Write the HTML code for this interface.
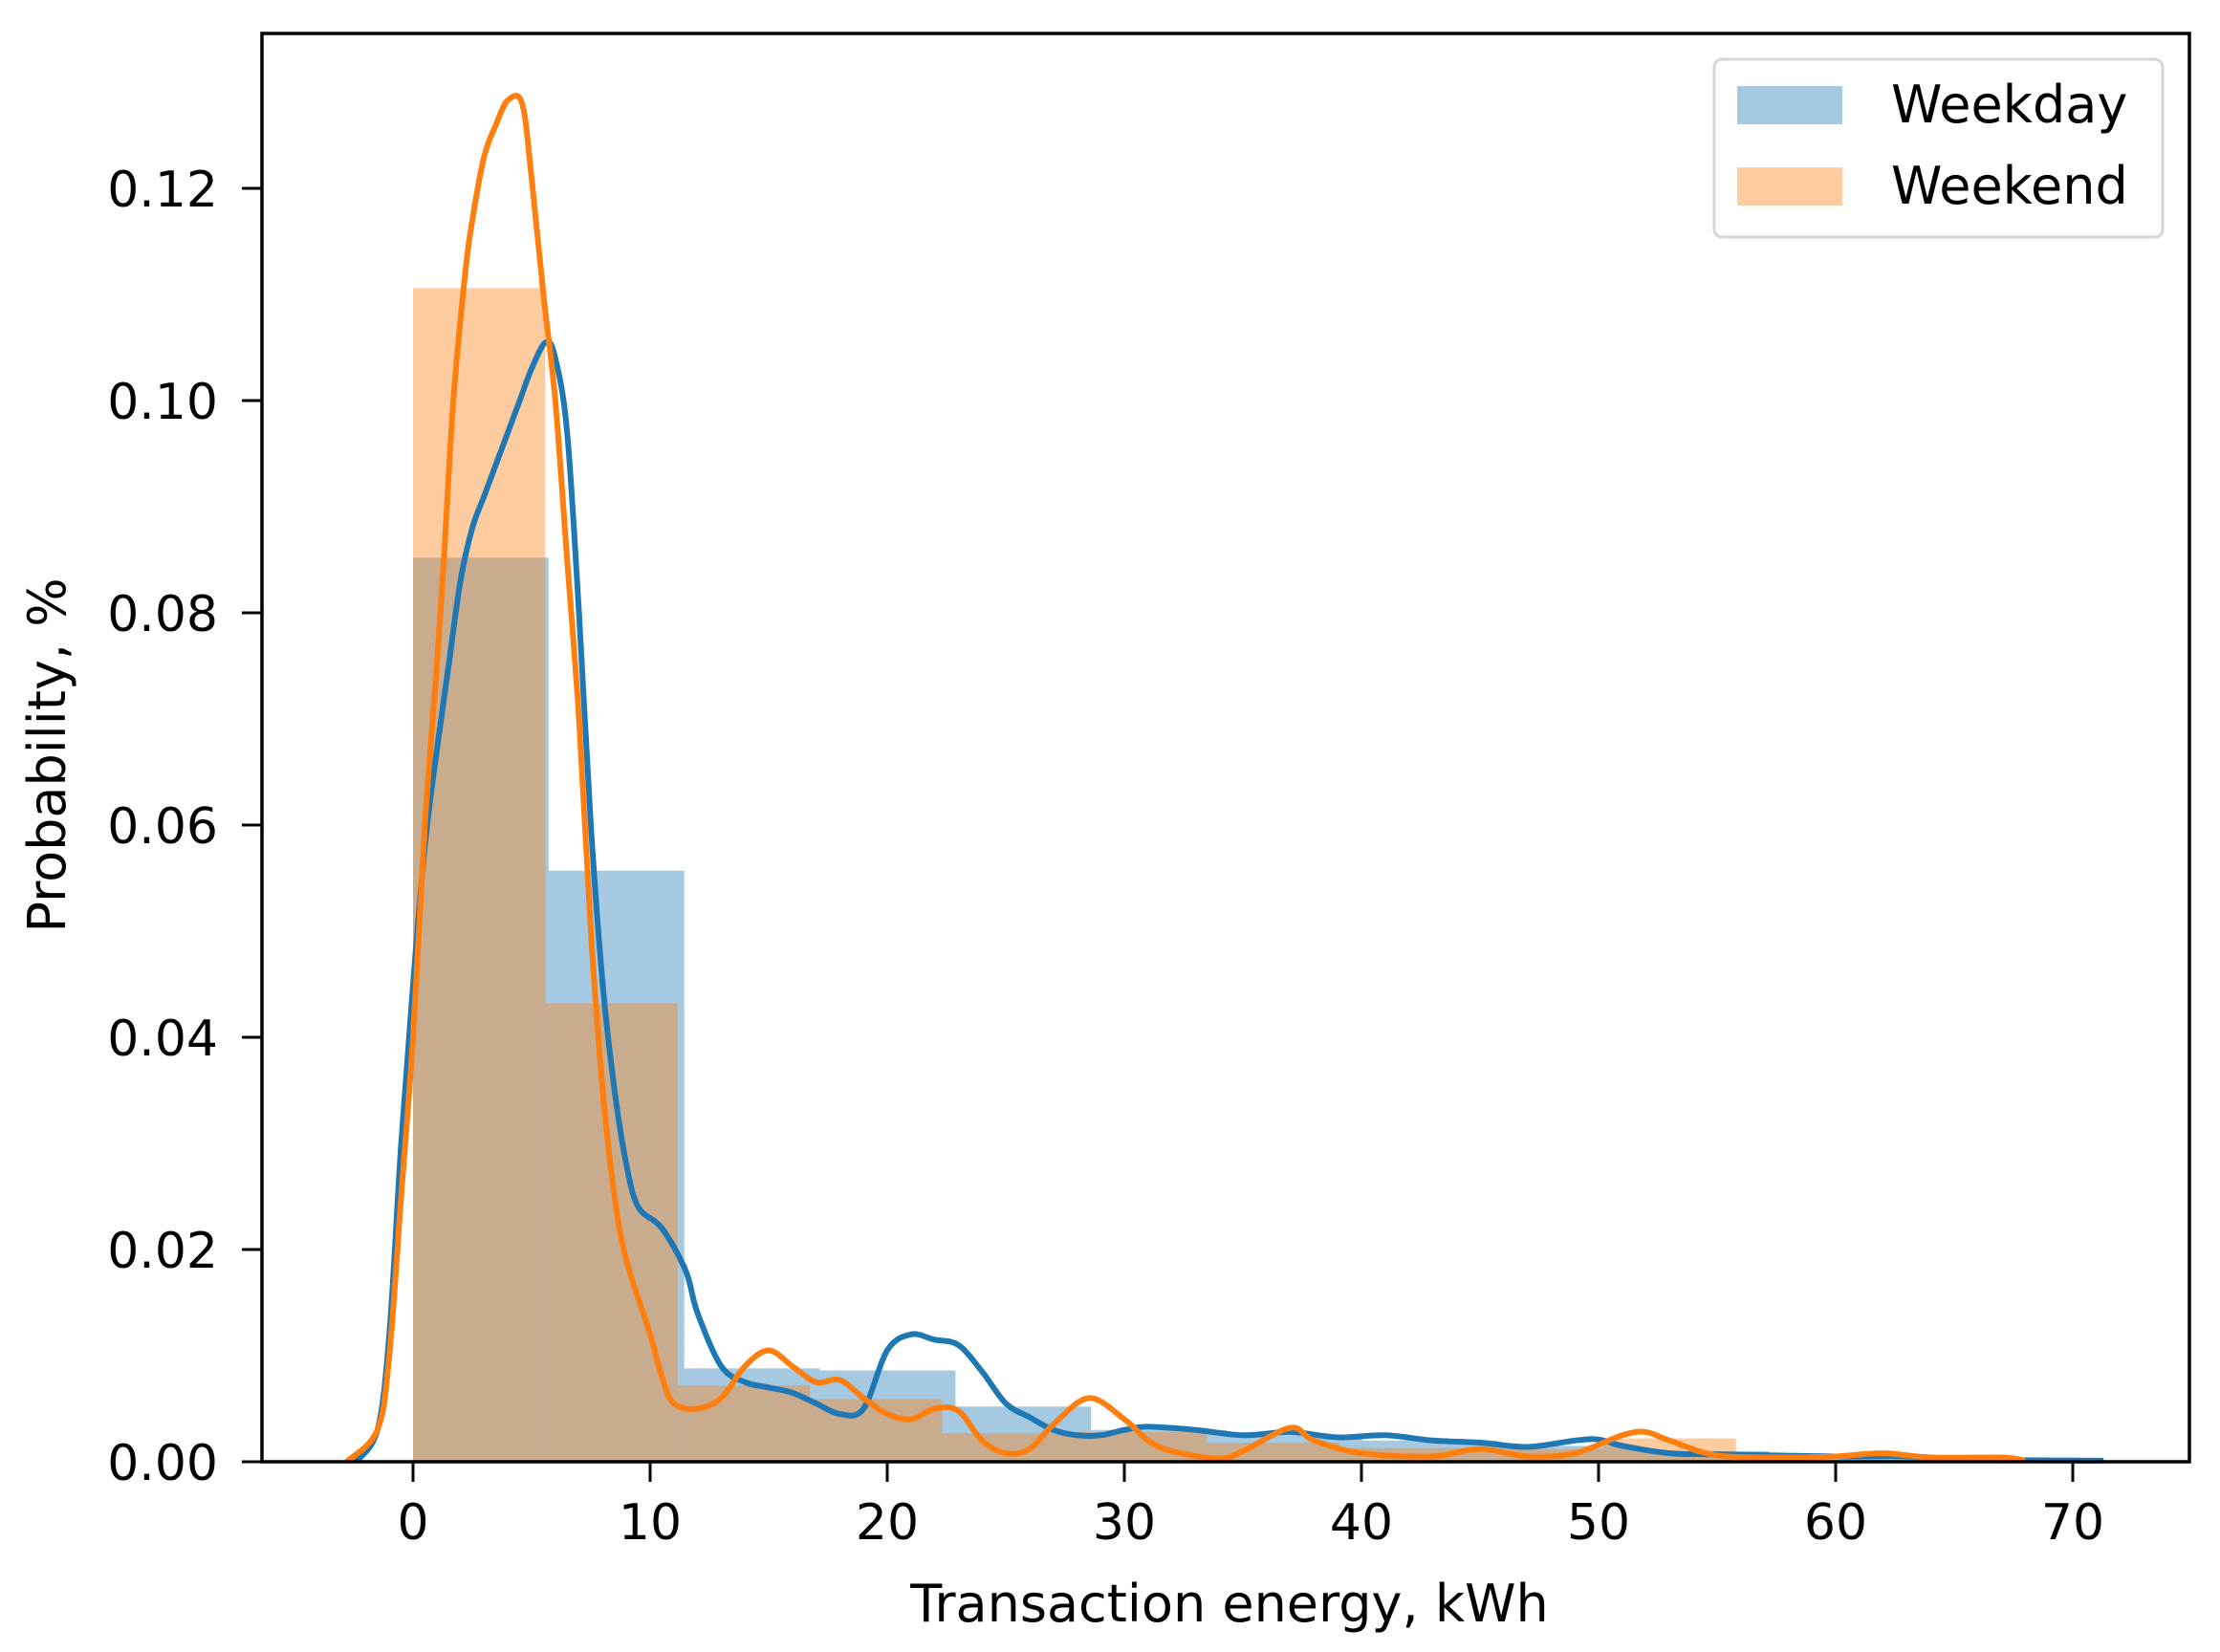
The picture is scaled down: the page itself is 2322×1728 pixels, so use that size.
<!DOCTYPE html>
<html><head><meta charset="utf-8">
<style>
html,body{margin:0;padding:0;background:#fff;}
svg{display:block;}
text{font-family:"DejaVu Sans","Liberation Sans",sans-serif;fill:#000;}
</style></head>
<body>
<svg id="s" width="2322" height="1728" viewBox="0 0 2322 1728" xmlns="http://www.w3.org/2000/svg">
<rect width="2322" height="1728" fill="#fff"/>
<g id="bars"></g>
<g id="lines"></g>
<rect x="274" y="35" width="2016" height="1494" fill="none" stroke="#000" stroke-width="3.5"/>
<g id="ticks" stroke="#000" stroke-width="3"></g>
<g id="labels" font-size="52"></g>
<text x="1286" y="1696" font-size="54" text-anchor="middle">Transaction energy, kWh</text>
<text transform="translate(68,790) rotate(-90)" font-size="54" text-anchor="middle">Probability, %</text>
<rect x="1793" y="62" width="469" height="186" rx="8" fill="#fff" stroke="#d6d6d6" stroke-width="3"/>
<rect x="1817" y="90" width="110" height="40" fill="#1f77b4" fill-opacity="0.4"/>
<rect x="1817" y="175" width="110" height="40" fill="#ff7f0e" fill-opacity="0.4"/>
<text x="1978" y="128" font-size="54">Weekday</text>
<text x="1978" y="213" font-size="54">Weekend</text>
</svg>
<script>
const X=v=>432+24.8*v, Y=p=>1529-p*11100;
const NS="http://www.w3.org/2000/svg";
function el(t,a,p){const e=document.createElementNS(NS,t);for(const k in a)e.setAttribute(k,a[k]);p.appendChild(e);return e;}
const bars=document.getElementById('bars');
const bw=5.72, bh=[0.0852,0.0557,0.0088,0.0086,0.0052,0.003,0.0025,0.002,0.0015,0.001,0.0005,0.0003];
bh.forEach((h,i)=>el('rect',{x:X(i*bw),y:Y(h),width:X((i+1)*bw)-X(i*bw),height:Y(0)-Y(h),fill:'#1f77b4','fill-opacity':0.4},bars));
const ow=5.58, oh=[0.1106,0.0432,0.0072,0.0059,0.0027,0.0028,0.0018,0.0013,0.0012,0.0022];
oh.forEach((h,i)=>el('rect',{x:X(i*ow),y:Y(h),width:X((i+1)*ow)-X(i*ow),height:Y(0)-Y(h),fill:'#ff7f0e','fill-opacity':0.4},bars));
const blue=[[-2.4,0],[-1.5,0.003],[-1,0.012],[-0.5,0.03],[0,0.045],[0.5,0.058],[1,0.067],[1.5,0.075],[2,0.083],[2.5,0.088],[3,0.091],[3.5,0.094],[4,0.097],[4.5,0.1],[5,0.103],[5.6,0.1055],[6,0.104],[6.5,0.097],[7,0.08],[7.5,0.06],[8,0.045],[8.5,0.035],[9,0.028],[9.5,0.024],[10.5,0.022],[11.5,0.018],[12,0.014],[13,0.009],[14,0.0075],[15,0.007],[16,0.0065],[17,0.0055],[18,0.0045],[19,0.005],[20,0.0105],[21,0.012],[22,0.0115],[23,0.011],[24,0.0085],[25,0.0055],[26,0.0042],[27,0.003],[28,0.0025],[29,0.0025],[30,0.003],[31,0.0033],[33,0.003],[35,0.0025],[37,0.0028],[39,0.0023],[41,0.0025],[43,0.002],[45,0.0018],[47,0.0014],[49,0.002],[50,0.0021],[51,0.0015],[53,0.0008],[55,0.0007],[60,0.0005],[63,0.0005],[66,0.0002],[71.3,0.0001]];
const orange=[[-2.8,0],[-1.5,0.003],[-1,0.01],[-0.5,0.025],[0,0.04],[0.5,0.06],[1,0.075],[1.3,0.085],[1.7,0.1],[2.2,0.112],[2.5,0.117],[3,0.123],[3.5,0.126],[4,0.1283],[4.6,0.128],[5,0.121],[5.5,0.11],[6,0.1],[6.5,0.085],[7,0.07],[7.5,0.05],[8,0.035],[8.5,0.025],[9,0.019],[10,0.012],[10.5,0.008],[11,0.0055],[12,0.005],[13,0.006],[14,0.009],[15,0.0105],[16,0.009],[17,0.0075],[18,0.0077],[19,0.006],[20,0.0045],[21,0.004],[22,0.005],[23,0.0048],[24,0.002],[25,0.0008],[26,0.0012],[27,0.0035],[28.5,0.006],[30,0.004],[31,0.002],[32,0.001],[34,0.0003],[35,0.001],[37,0.0032],[38,0.002],[40,0.0008],[43,0.0005],[45,0.0012],[47,0.0005],[49,0.0008],[51,0.0025],[52,0.0028],[53,0.002],[55,0.0006],[58,0.0004],[60,0.0005],[62,0.0008],[64,0.0004],[67,0.0004],[68,0.0001]];
function path(pts){const p=pts.map(([a,b])=>[X(a),Y(b)]);let d='M'+p[0][0]+','+p[0][1];
for(let i=0;i<p.length-1;i++){const p0=p[i-1]||p[i],p1=p[i],p2=p[i+1],p3=p[i+2]||p2;
const c1=[p1[0]+(p2[0]-p0[0])/6,p1[1]+(p2[1]-p0[1])/6],c2=[p2[0]-(p3[0]-p1[0])/6,p2[1]-(p3[1]-p1[1])/6];
d+=' C'+c1+' '+c2+' '+p2;}return d;}
const L=document.getElementById('lines');
el('path',{d:path(blue),fill:'none',stroke:'#1f77b4','stroke-width':6,'stroke-linejoin':'round'},L);
el('path',{d:path(orange),fill:'none',stroke:'#ff7f0e','stroke-width':6,'stroke-linejoin':'round'},L);
const T=document.getElementById('ticks'),LB=document.getElementById('labels');
for(let v=0;v<=70;v+=10){el('line',{x1:X(v),x2:X(v),y1:1529,y2:1550},T);const t=el('text',{x:X(v),y:1610,'text-anchor':'middle'},LB);t.textContent=v;}
for(let i=0;i<=6;i++){const p=i*0.02;el('line',{x1:253,x2:274,y1:Y(p),y2:Y(p)},T);const t=el('text',{x:228,y:Y(p)+19,'text-anchor':'end'},LB);t.textContent=p.toFixed(2);}
</script>
</body></html>
